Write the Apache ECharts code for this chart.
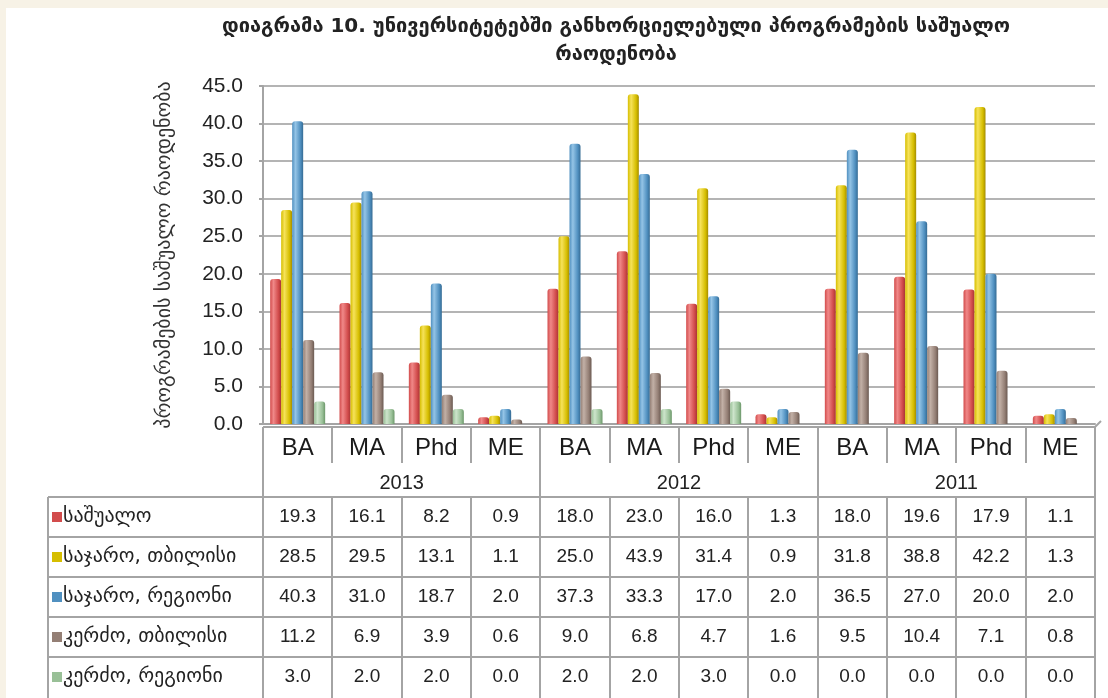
<!DOCTYPE html>
<html>
<head>
<meta charset="utf-8">
<script src="https://cdn.jsdelivr.net/npm/echarts@6/dist/echarts.min.js"></script>
<style>
    body { margin: 0; background: #f7f2e6; }
    #chart { position: absolute; left: 6px; top: 8px; width: 1102px; height: 690px; background: #fff; }
</style>
</head>
<body>
<div id="chart"></div>
<script>
// კატეგორიები
const degrees = ['BA', 'MA', 'Phd', 'ME', 'BA', 'MA', 'Phd', 'ME', 'BA', 'MA', 'Phd', 'ME'];
const years = ['2013', '2012', '2011'];
const seriesNames = ['საშუალო', 'საჯარო, თბილისი', 'საჯარო, რეგიონი', 'კერძო, თბილისი', 'კერძო, რეგიონი'];

// მონაცემები
const avgAll = [19.3, 16.1, 8.2, 0.9, 18.0, 23.0, 16.0, 1.3, 18.0, 19.6, 17.9, 1.1];
const pubTbilisi = [28.5, 29.5, 13.1, 1.1, 25.0, 43.9, 31.4, 0.9, 31.8, 38.8, 42.2, 1.3];
const pubRegion = [40.3, 31.0, 18.7, 2.0, 37.3, 33.3, 17.0, 2.0, 36.5, 27.0, 20.0, 2.0];
const privTbilisi = [11.2, 6.9, 3.9, 0.6, 9.0, 6.8, 4.7, 1.6, 9.5, 10.4, 7.1, 0.8];
const privRegion = [3.0, 2.0, 2.0, 0.0, 2.0, 2.0, 3.0, 0.0, 0.0, 0.0, 0.0, 0.0];

const yMin = 0, yMax = 45, yStep = 5;

const allValues = [avgAll, pubTbilisi, pubRegion, privTbilisi, privRegion];

// ფერები: [მუქი, ღია, ძირითადი]
const colors = [
    ['#a83434', '#f08888', '#d24c4c'],
    ['#a48c00', '#f6e25a', '#d6be00'],
    ['#356b94', '#94c4e6', '#5090c0'],
    ['#6b5a52', '#c2b0a6', '#947f75'],
    ['#6c976a', '#cde4cb', '#99c097']
];

const W = 1102, H = 690;
const gl = 257, gr = 13, gt = 78, gb = 274;
const band = (W - gl - gr) / 12;
const lineColor = '#a4a4a4';
const fontNum = 'Liberation Sans';
const fontKa = 'DejaVu Sans';

let myChart = echarts.init(document.getElementById('chart'));

let series = [];
for (let i = 0; i < allValues.length; i++) {
    let c = colors[i];
    series.push({
        name: seriesNames[i],
        type: 'bar',
        barWidth: 11,
        barGap: '0%',
        data: allValues[i],
        itemStyle: {
            color: new echarts.graphic.LinearGradient(0, 0, 1, 0, [
                { offset: 0, color: c[2] },
                { offset: 0.3, color: c[1] },
                { offset: 0.75, color: c[2] },
                { offset: 1, color: c[0] }
            ]),
            borderRadius: [3, 3, 0, 0]
        }
    });
}

// ცხრილის რიგები - ცალკე ღერძებად
let xAxes = [{
    type: 'category',
    data: degrees,
    axisLine: { lineStyle: { color: lineColor, width: 2 } },
    axisTick: { show: false },
    axisLabel: { interval: 0, margin: 12, fontSize: 24, color: '#1a1a1a', fontFamily: fontNum }
}, {
    type: 'category',
    data: years,
    position: 'bottom',
    axisLine: { show: false },
    axisTick: { show: false },
    axisLabel: { interval: 0, margin: 49, fontSize: 20, color: '#222', fontFamily: fontNum }
}];
for (let r = 0; r < allValues.length; r++) {
    xAxes.push({
        type: 'category',
        data: allValues[r].map(v => v.toFixed(1)),
        position: 'bottom',
        offset: 83 + 40 * r,
        axisLine: { show: false },
        axisTick: { show: false },
        splitLine: { show: false },
        axisLabel: { interval: 0, margin: 0, fontSize: 19, lineHeight: 19, color: '#222', fontFamily: fontNum }
    });
}

// ცხრილის ხაზები
let lines = [];
function hline(y, x1, x2) {
    lines.push({ type: 'line', shape: { x1: x1, y1: y, x2: x2, y2: y }, style: { stroke: lineColor, lineWidth: 2 } });
}
function vline(x, y1, y2) {
    lines.push({ type: 'line', shape: { x1: x, y1: y1, x2: x, y2: y2 }, style: { stroke: lineColor, lineWidth: 2 } });
}
const tableLeft = 42;
const floorY = H - gb;
hline(floorY + 3, gl, W - gr);
lines.push({ type: 'line', shape: { x1: W - gr, y1: floorY + 3, x2: W - gr + 6, y2: floorY - 3 }, style: { stroke: lineColor, lineWidth: 2 } });
for (let k = 0; k <= 12; k++) {
    let x = Math.round(gl + k * band);
    if (k % 4 == 0) {
        vline(x, floorY + 3, H);
    } else {
        vline(x, floorY + 3, floorY + 39);
        vline(x, floorY + 73, H);
    }
}
vline(tableLeft, floorY + 73, H);
for (let r = 0; r < 5; r++) {
    hline(floorY + 73 + 40 * r, tableLeft, W - gr);
}

option = {
    animation: false,
    backgroundColor: '#fff',
    grid: { left: gl, right: gr, top: gt, bottom: gb, containLabel: false },
    legend: {
        orient: 'vertical',
        left: tableLeft + 4,
        top: floorY + 83,
        padding: 0,
        itemWidth: 10,
        itemHeight: 10,
        itemGap: 20,
        icon: 'rect',
        data: seriesNames.map((n, i) => ({ name: n, itemStyle: { color: colors[i][2] } })),
        textStyle: { fontSize: 20, lineHeight: 20, color: '#222', fontFamily: fontKa, padding: [0, 0, 0, -4] },
        selectedMode: false
    },
    xAxis: xAxes,
    yAxis: {
        type: 'value',
        min: yMin,
        max: yMax,
        interval: yStep,
        name: 'პროგრამების საშუალო რაოდენობა',
        nameLocation: 'middle',
        nameGap: 88,
        nameTextStyle: { fontSize: 20, color: '#333', fontFamily: fontKa },
        axisLine: { show: true, lineStyle: { color: lineColor, width: 2 } },
        axisTick: { show: true, length: 4, lineStyle: { color: lineColor, width: 2 } },
        splitLine: { lineStyle: { color: '#b4b4b4', width: 2 } },
        axisLabel: { margin: 20, fontSize: 21, color: '#222', fontFamily: fontNum, formatter: v => v.toFixed(1) }
    },
    graphic: lines.concat([{
        type: 'text',
        x: 610,
        y: 5,
        style: {
            text: 'დიაგრამა 10. უნივერსიტეტებში განხორციელებული პროგრამების საშუალო\nრაოდენობა',
            align: 'center',
            verticalAlign: 'top',
            lineHeight: 28,
            font: 'bold 20px "DejaVu Sans"',
            fill: '#222'
        }
    }]),
    series: series
};

myChart.setOption(option);
</script>
</body>
</html>
